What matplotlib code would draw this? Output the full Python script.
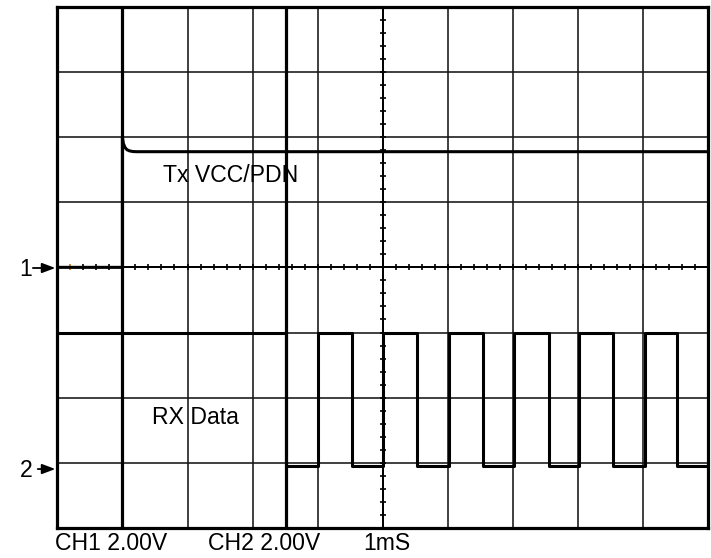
import matplotlib
matplotlib.use("Agg")
import matplotlib.pyplot as plt
import matplotlib.transforms as mtransforms
import numpy as np

plt.rcParams['font.family'] = ['Liberation Sans', 'DejaVu Sans']

# ---- data (time in ms, volts) ----
tx_time = [0.0, 1.0, 1.0, 1.015, 1.04, 1.07, 1.11, 1.16, 1.22, 10.0]
tx_volts = [0.0, 0.0, 4.0, 3.80, 3.68, 3.61, 3.575, 3.555, 3.55, 3.55]

rx_edges = [0.0, 3.52, 4.01, 4.53, 5.01, 5.53, 6.01, 6.54, 7.02, 7.56, 8.02, 8.53, 9.03, 9.52, 10.0]
rx_levels = [4.0, -0.1, 4.0, -0.1, 4.0, -0.1, 4.0, -0.1, 4.0, -0.1, 4.0, -0.1, 4.0, -0.1, -0.1]

cursor_times = [1.0, 3.52]

tx_label = "Tx VCC/PDN"
rx_label = "RX Data"
bottom_labels = ["CH1 2.00V", "CH2 2.00V", "1mS"]
channel_markers = ["1", "2"]

# ---- figure ----
W, H = 711, 558
fig = plt.figure(figsize=(W / 100, H / 100), dpi=100)
rect = [57.3 / W, 30 / H, 651 / W, 521.3 / H]

ax = fig.add_axes(rect)
ax.set_xlim(0, 10)
ax.set_ylim(0, 8)
ax.set_xticks([])
ax.set_yticks([])
for s in ax.spines.values():
    s.set_linewidth(2.3)
    s.set_color('black')

gc = '#151515'
for i in range(1, 10):
    ax.axvline(i, color=gc, lw=1.15, zorder=1)
for j in range(1, 8):
    ax.axhline(j, color=gc, lw=1.15, zorder=1)
ax.axvline(5, color='black', lw=1.4, zorder=1)
ax.axhline(4, color='black', lw=1.4, zorder=1)

# minor ticks on centre lines
mt = np.arange(0.2, 10, 0.2)
ax.plot(mt, np.full_like(mt, 4.0), ls='none', marker='|', ms=4.5, mew=1.2, color='black', zorder=4)
mty = np.arange(0.2, 8, 0.2)
ax.plot(np.full_like(mty, 5.0), mty, ls='none', marker='_', ms=4.5, mew=1.2, color='black', zorder=4)
ax.plot([0.2], [4.0], ls='none', marker='|', ms=4.5, mew=1.2, color='#f0a040', zorder=5)

# cursors
for c in cursor_times:
    ax.axvline(c, color='black', lw=2.3, zorder=3)

# channel 1 axes (2 V/div, ground at centre)
ax1 = fig.add_axes(rect, frameon=False)
ax1.set_xlim(0, 10)
ax1.set_ylim(-8, 8)
ax1.set_xticks([]); ax1.set_yticks([])
ax1.patch.set_alpha(0)
ax1.plot(tx_time, tx_volts, color='black', lw=2.2, solid_joinstyle='round', zorder=3)

# channel 2 axes (2 V/div, ground one division above bottom)
ax2 = fig.add_axes(rect, frameon=False)
ax2.set_xlim(0, 10)
ax2.set_ylim(-2, 14)
ax2.set_xticks([]); ax2.set_yticks([])
ax2.patch.set_alpha(0)
ax2.step(rx_edges, rx_levels, where='post', color='black', lw=2.2, zorder=3)

# trace labels
fs = 16.6
ax.text(1.624, 5.31, tx_label, fontsize=fs, ha='left', va='baseline', color='black', zorder=6)
ax.text(1.455, 1.596, rx_label, fontsize=fs, ha='left', va='baseline', color='black', zorder=6)

# channel markers
trans = mtransforms.blended_transform_factory(ax.transAxes, ax.transData)
marker_y = [3.99, 0.905]
arrow_start = [-0.0375, -0.030]
for lab, y, xs in zip(channel_markers, marker_y, arrow_start):
    ax.annotate('', xy=(-0.003, y), xytext=(xs, y), xycoords=trans, textcoords=trans,
                arrowprops=dict(arrowstyle='-|>,head_length=0.8,head_width=0.3',
                                mutation_scale=10, lw=1.3, color='black',
                                shrinkA=0, shrinkB=0),
                annotation_clip=False)
    ax.text(-0.048, y - 0.03, lab, transform=trans, fontsize=fs, ha='center', va='center',
            clip_on=False)

# bottom labels
bx = [55, 208, 363]
for lab, x in zip(bottom_labels, bx):
    fig.text(x / W, (H - 550) / H, lab, fontsize=fs, ha='left', va='baseline')

fig.savefig('out.png', dpi=100)
